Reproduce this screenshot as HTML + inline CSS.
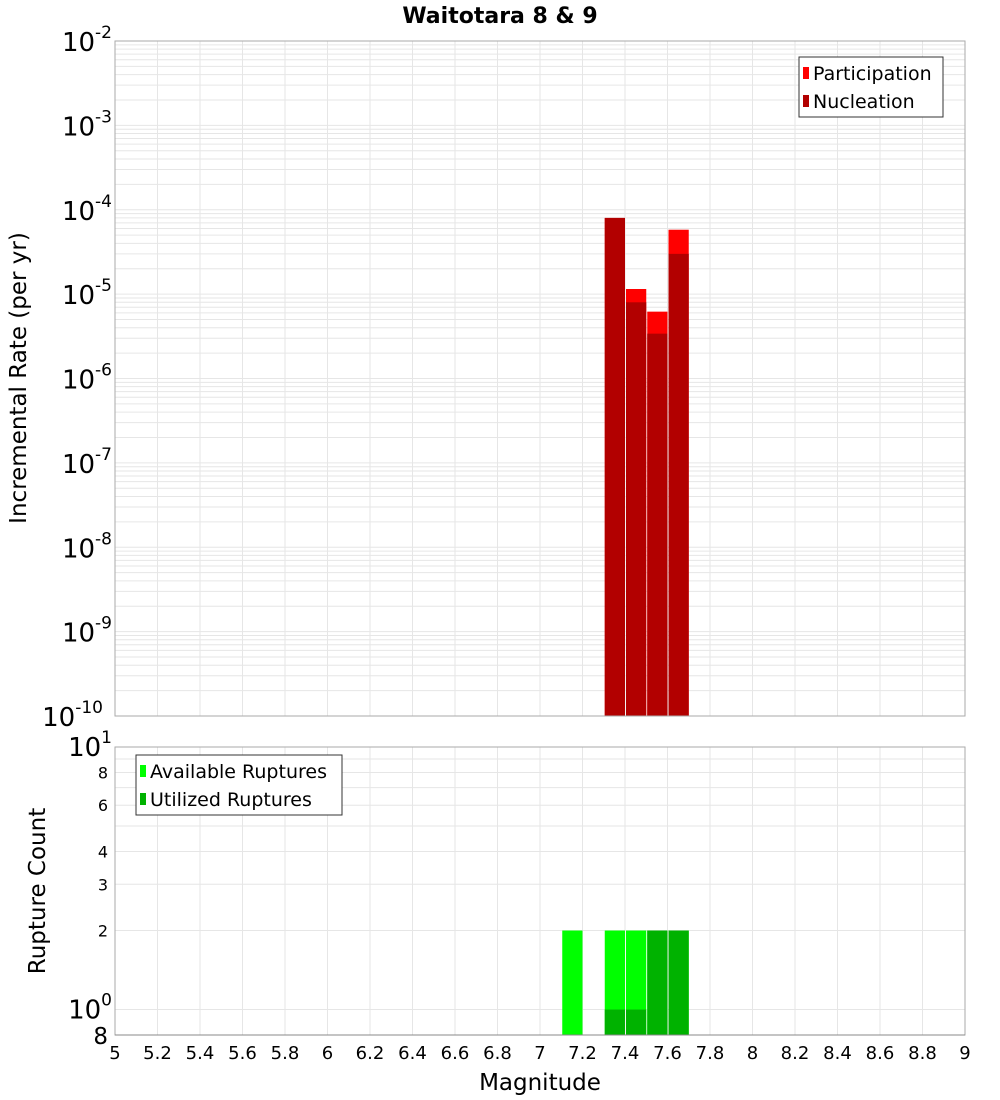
<!DOCTYPE html>
<html><head><meta charset="utf-8"><style>
body{margin:0;background:#fff;}
svg{display:block;font-family:"DejaVu Sans","Liberation Sans",sans-serif;}
</style></head><body>
<svg id="c" width="1000" height="1100" viewBox="0 0 1000 1100"></svg>
<script>
const binStarts=[7.3,7.4,7.5,7.6];
const participation=[8e-5,1.15e-5,6.2e-6,5.8e-5];
const nucleation=[8e-5,8.0e-6,3.4e-6,3.0e-5];
const countBins=[7.1,7.3,7.4,7.5,7.6];
const available=[2,2,2,2,2];
const utilized=[0,1,1,2,2];
const xTicks=["5","5.2","5.4","5.6","5.8","6","6.2","6.4","6.6","6.8","7","7.2","7.4","7.6","7.8","8","8.2","8.4","8.6","8.8","9"];
const topExps=[-2,-3,-4,-5,-6,-7,-8,-9,-10];
const botTicks=["8","6","4","3","2"];
const botTickVals=[8,6,4,3,2];

const S=document.getElementById('c');const NS='http://www.w3.org/2000/svg';
function el(t,a,p){const e=document.createElementNS(NS,t);for(const k in a)e.setAttribute(k,a[k]);(p||S).appendChild(e);return e;}
const X0=115,X1=965;
const xs=m=>X0+(m-5)/4*(X1-X0);
const T0=41,T1=716;
const yTop=v=>T0+(-2-Math.log10(v))/8*(T1-T0);
const B0=747,B1=1035;
const yBot=v=>B0+(1-Math.log10(v))/(1-Math.log10(0.8))*(B1-B0);

let t=el('text',{x:500,y:23,'text-anchor':'middle','font-size':22,'font-weight':'bold'});t.textContent='Waitotara 8 & 9';


const g1=el('g',{});
for(let e=-10;e<-2;e++)for(let k=1;k<10;k++){const y=yTop(k*Math.pow(10,e));el('line',{x1:X0,x2:X1,y1:y,y2:y,stroke:'#e6e6e6','stroke-width':1},g1);}
xTicks.forEach(s=>{const x=xs(+s);el('line',{x1:x,x2:x,y1:T0,y2:T1,stroke:'#e6e6e6'},g1);el('line',{x1:x,x2:x,y1:B0,y2:B1,stroke:'#e6e6e6'},g1);});
for(let v=0.8;v<10;v+=(v<1?0.2:1)){const y=yBot(v);el('line',{x1:X0,x2:X1,y1:y,y2:y,stroke:'#e6e6e6'},g1);}

binStarts.forEach((b,i)=>{
 const x=xs(b)+1,w=xs(b+0.1)-xs(b)-1;
 let r=el('rect',{x:x,y:yTop(participation[i]),width:w,height:T1-yTop(participation[i]),fill:'#ff0000'});
 
 r=el('rect',{x:x,y:yTop(nucleation[i]),width:w,height:T1-yTop(nucleation[i]),fill:'#b20000'});
 
});
countBins.forEach((b,i)=>{
 const x=xs(b)+1,w=xs(b+0.1)-xs(b)-1;
 let r=el('rect',{x:x,y:yBot(available[i]),width:w,height:B1-yBot(available[i]),fill:'#00ff00'});
 
 if(utilized[i]>0){r=el('rect',{x:x,y:yBot(utilized[i]),width:w,height:B1-yBot(utilized[i]),fill:'#00b200'});
 }
});

el('rect',{x:X0,y:T0,width:X1-X0,height:T1-T0,fill:'none',stroke:'#aaa'});
el('rect',{x:X0,y:B0,width:X1-X0,height:B1-B0,fill:'none',stroke:'#aaa'});
el('line',{x1:X0,x2:X1,y1:B1,y2:B1,stroke:'#888'});

topExps.forEach(e=>{const y=yTop(Math.pow(10,e));
 const tx=el('text',{x:e===-10?103:112,y:y+10,'text-anchor':'end','font-size':26});
 
 tx.innerHTML='10<tspan dy="-13" font-size="17">'+e+'</tspan>';});
let bt=el('text',{x:112,y:yBot(10)+9,'text-anchor':'end','font-size':26});bt.innerHTML='10<tspan dy="-13" font-size="17">1</tspan>';

bt=el('text',{x:112,y:yBot(1)+9,'text-anchor':'end','font-size':26});bt.innerHTML='10<tspan dy="-13" font-size="17">0</tspan>';

botTicks.forEach((s,i)=>{const tx=el('text',{x:108,y:yBot(botTickVals[i])+6,'text-anchor':'end','font-size':16});tx.textContent=s;
 });
bt=el('text',{x:108,y:1044,'text-anchor':'end','font-size':23});bt.textContent='8';


xTicks.forEach(s=>{const tx=el('text',{x:xs(+s),y:1059,'text-anchor':'middle','font-size':18});tx.textContent=s;
 });
let a=el('text',{x:540,y:1090,'text-anchor':'middle','font-size':23});a.textContent='Magnitude';

a=el('text',{x:0,y:0,'text-anchor':'middle','font-size':23,transform:'translate(26,378) rotate(-90)'});a.textContent='Incremental Rate (per yr)';

a=el('text',{x:0,y:0,'text-anchor':'middle','font-size':23,transform:'translate(45,891) rotate(-90)'});a.textContent='Rupture Count';


function legend(x,y,w,items,name){const g=el('g',{});
 el('rect',{x:x,y:y,width:w,height:60,fill:'#fff',stroke:'#333'},g);
 items.forEach((it,i)=>{const cy=y+16+i*28;el('rect',{x:x+4,y:cy-6,width:6,height:12,fill:it[1]},g);
 const tx=el('text',{x:x+14,y:cy+7,'font-size':19},g);tx.textContent=it[0];
 });}
legend(799,57,144,[['Participation','#ff0000'],['Nucleation','#b20000']],'top-legend');
legend(136,755,206,[['Available Ruptures','#00ff00'],['Utilized Ruptures','#00b200']],'bottom-legend');
</script>
</body></html>
